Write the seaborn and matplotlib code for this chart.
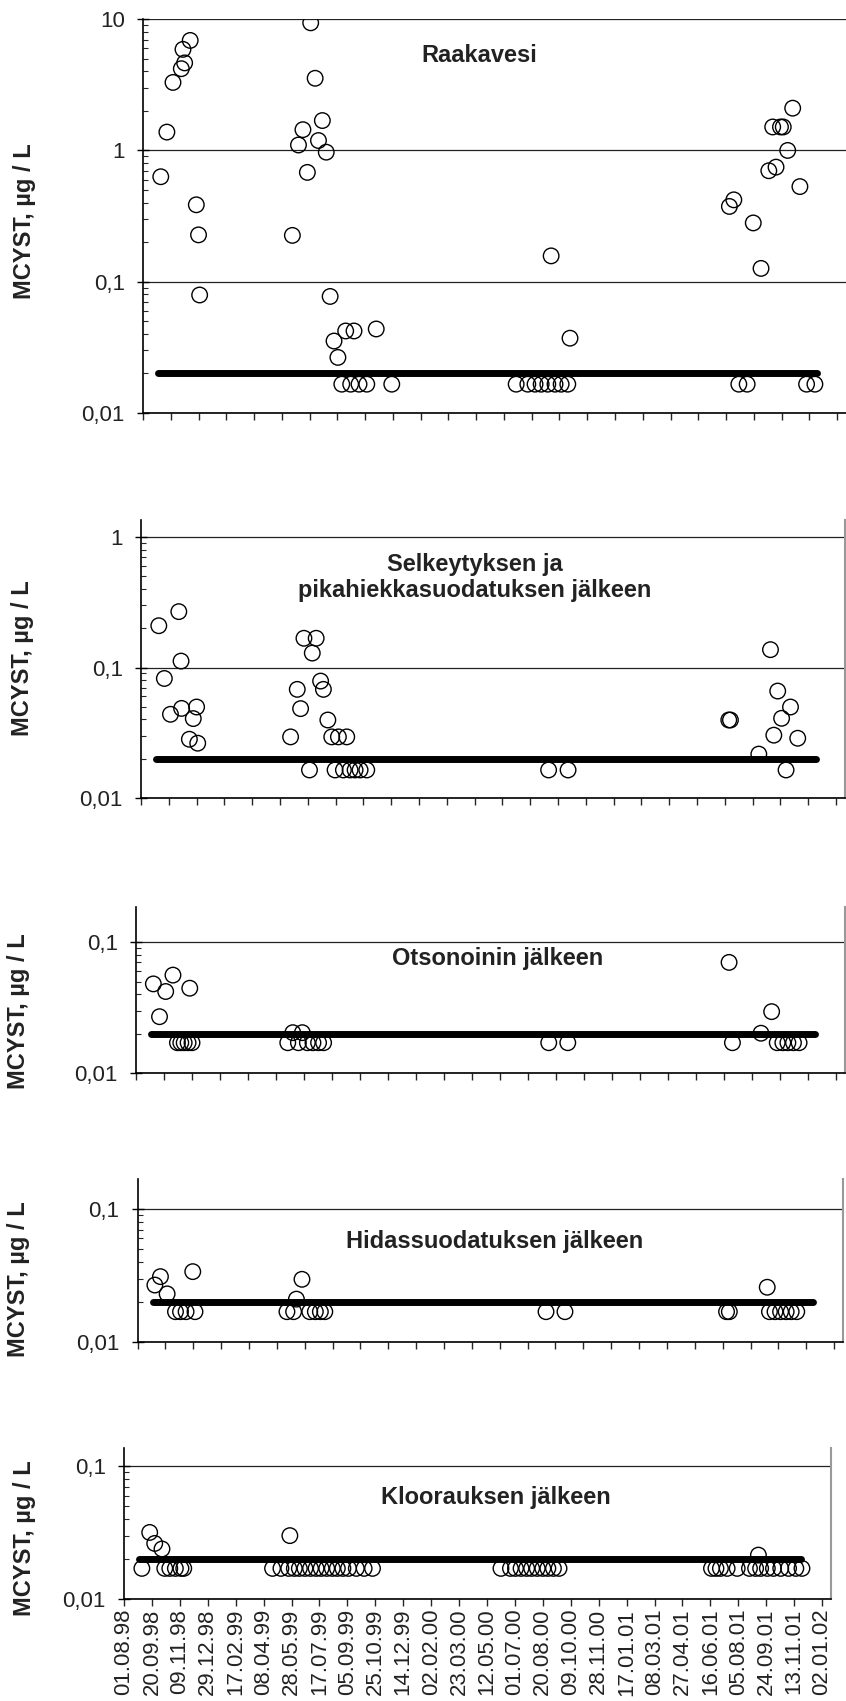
import matplotlib
matplotlib.use("Agg")
import matplotlib.pyplot as plt
import matplotlib.dates as mdates
from matplotlib.ticker import FixedLocator, LogLocator, FuncFormatter, NullFormatter
import pandas as pd
import seaborn as sns

sns.set_style("ticks")
plt.rcParams["font.family"] = ["Liberation Sans", "DejaVu Sans"]

# --- Microcystin (MCYST) concentrations along the treatment train -------------
# Values below the detection limit are plotted just under the 0.02 line.

raw_dates = [
    "1998-09-02", "1998-09-13", "1998-09-24", "1998-10-09", "1998-10-12", "1998-10-15",
    "1998-10-25", "1998-11-05", "1998-11-09", "1998-11-11",
    "1999-04-27", "1999-05-08", "1999-05-16", "1999-05-24", "1999-05-30", "1999-06-07",
    "1999-06-13", "1999-06-20", "1999-06-27", "1999-07-04", "1999-07-11", "1999-07-18",
    "1999-07-25", "1999-08-01", "1999-08-10", "1999-08-16", "1999-08-25", "1999-09-08",
    "1999-09-25", "1999-10-23",
    "2000-06-03", "2000-06-24", "2000-07-07", "2000-07-18", "2000-07-30", "2000-08-05",
    "2000-08-12", "2000-08-23", "2000-09-04", "2000-09-08",
    "2001-06-22", "2001-06-30", "2001-07-09", "2001-07-24", "2001-08-04", "2001-08-18",
    "2001-09-01", "2001-09-08", "2001-09-14", "2001-09-22", "2001-09-27", "2001-10-05",
    "2001-10-14", "2001-10-27", "2001-11-08", "2001-11-23",
]
raw_mcyst = [
    0.63, 1.38, 3.3, 4.2, 5.9, 4.65,
    6.9, 0.385, 0.227, 0.079,
    0.225, 1.1, 1.44, 0.68, 9.4, 3.55,
    1.19, 1.69, 0.97, 0.077, 0.0352, 0.0264,
    0.0165, 0.042, 0.0165, 0.042, 0.0165, 0.0165,
    0.0435, 0.0165,
    0.0165, 0.0165, 0.0165, 0.0165, 0.0165, 0.157,
    0.0165, 0.0165, 0.0165, 0.037,
    0.374, 0.42, 0.0165, 0.0165, 0.28, 0.126,
    0.70, 1.51, 0.746, 1.51, 1.51, 1.0,
    2.1, 0.53, 0.0165, 0.0165,
]

clar_dates = [
    "1998-09-02", "1998-09-12", "1998-09-23", "1998-10-08", "1998-10-12", "1998-10-13",
    "1998-10-27", "1998-11-03", "1998-11-09", "1998-11-11",
    "1999-04-27", "1999-05-09", "1999-05-15", "1999-05-21", "1999-05-31", "1999-06-05",
    "1999-06-12", "1999-06-20", "1999-06-25", "1999-07-03", "1999-07-10", "1999-07-16",
    "1999-07-22", "1999-07-31", "1999-08-06", "1999-08-12", "1999-08-21", "1999-08-30",
    "1999-09-11",
    "2000-08-03", "2000-09-07",
    "2001-06-23", "2001-06-26", "2001-08-16", "2001-09-06", "2001-09-12", "2001-09-19",
    "2001-09-26", "2001-10-04", "2001-10-12", "2001-10-25",
]
clar_mcyst = [
    0.209, 0.0824, 0.0438, 0.268, 0.112, 0.0486,
    0.0282, 0.0406, 0.0498, 0.0263,
    0.0294, 0.068, 0.0484, 0.1675, 0.0164, 0.129,
    0.1675, 0.0787, 0.068, 0.0396, 0.0294, 0.0164,
    0.0294, 0.0164, 0.0294, 0.0164, 0.0164, 0.0164,
    0.0164,
    0.0164, 0.0164,
    0.0396, 0.0396, 0.0217, 0.137, 0.0303, 0.066,
    0.0408, 0.0164, 0.0498, 0.0287,
]

ozone_dates = [
    "1998-09-01", "1998-09-12", "1998-09-23", "1998-10-06", "1998-10-14", "1998-10-20",
    "1998-10-26", "1998-11-02", "1998-11-05", "1998-11-09",
    "1999-04-29", "1999-05-08", "1999-05-18", "1999-05-25", "1999-06-03", "1999-06-13",
    "1999-06-23", "1999-07-02",
    "2000-08-07", "2000-09-10",
    "2001-06-25", "2001-07-01", "2001-08-21", "2001-09-09", "2001-09-19", "2001-09-29",
    "2001-10-08", "2001-10-18", "2001-10-28",
]
ozone_mcyst = [
    0.048, 0.027, 0.042, 0.056, 0.0171, 0.0171,
    0.0171, 0.0171, 0.0445, 0.0171,
    0.0171, 0.0204, 0.0171, 0.0204, 0.0171, 0.0171,
    0.0171, 0.0171,
    0.0171, 0.0171,
    0.07, 0.0171, 0.0202, 0.0295, 0.0171, 0.0171,
    0.0171, 0.0171, 0.0171,
]

slow_dates = [
    "1998-09-01", "1998-09-11", "1998-09-23", "1998-10-08", "1998-10-17", "1998-10-27",
    "1998-11-08", "1998-11-12",
    "1999-04-26", "1999-05-08", "1999-05-13", "1999-05-23", "1999-06-06", "1999-06-16",
    "1999-06-25", "1999-07-03",
    "2000-08-03", "2000-09-06",
    "2001-06-23", "2001-06-28", "2001-09-04", "2001-09-08", "2001-09-18", "2001-09-28",
    "2001-10-08", "2001-10-17", "2001-10-27",
]
slow_mcyst = [
    0.0268, 0.031, 0.023, 0.0169, 0.0169, 0.0169,
    0.0338, 0.0169,
    0.0169, 0.0169, 0.021, 0.0296, 0.0169, 0.0169,
    0.0169, 0.0169,
    0.0169, 0.0169,
    0.0169, 0.0169, 0.0258, 0.0169, 0.0169, 0.0169,
    0.0169, 0.0169, 0.0169,
]

chlor_dates = [
    "1998-09-02", "1998-09-16", "1998-09-25", "1998-10-08", "1998-10-13", "1998-10-22",
    "1998-11-01", "1998-11-11", "1998-11-16",
    "1999-04-24", "1999-05-09", "1999-05-23", "1999-05-25", "1999-06-02", "1999-06-11",
    "1999-06-21", "1999-07-01", "1999-07-11", "1999-07-20", "1999-07-30", "1999-08-09",
    "1999-08-18", "1999-08-28", "1999-09-07", "1999-09-21", "1999-10-05", "1999-10-20",
    "2000-06-06", "2000-06-23", "2000-07-02", "2000-07-12", "2000-07-22", "2000-07-31",
    "2000-08-10", "2000-08-20", "2000-08-29", "2000-09-08", "2000-09-18",
    "2001-06-18", "2001-06-26", "2001-07-04", "2001-07-16", "2001-08-03", "2001-08-25",
    "2001-09-05", "2001-09-10", "2001-09-14", "2001-09-26", "2001-10-07", "2001-10-20",
    "2001-11-03", "2001-11-16", "2001-11-27",
]
chlor_mcyst = [
    0.017, 0.0317, 0.0262, 0.0238, 0.017, 0.017,
    0.017, 0.017, 0.017,
    0.017, 0.017, 0.017, 0.030, 0.017, 0.017,
    0.017, 0.017, 0.017, 0.017, 0.017, 0.017,
    0.017, 0.017, 0.017, 0.017, 0.017, 0.017,
    0.017, 0.017, 0.017, 0.017, 0.017, 0.017,
    0.017, 0.017, 0.017, 0.017, 0.017,
    0.017, 0.017, 0.017, 0.017, 0.017, 0.017,
    0.017, 0.0214, 0.017, 0.017, 0.017, 0.017,
    0.017, 0.017, 0.017,
]

panel_titles = [
    "Raakavesi",
    "Selkeytyksen ja\npikahiekkasuodatuksen jälkeen",
    "Otsonoinin jälkeen",
    "Hidassuodatuksen jälkeen",
    "Kloorauksen jälkeen",
]
panel_ymax = [10, 1.35, 0.185, 0.168, 0.137]

detection_limit = 0.02
limit_span = ["1998-08-28", "2001-11-26"]
axis_span = ["1998-08-01", "2002-01-18"]
tick_first, tick_last, tick_step = "1998-08-01", "2002-01-02", "50D"
ylabel = "MCYST, µg / L"

# --- layout (figure fractions) -------------------------------------------------
W, H = 846.0, 1701.0
panel_boxes = [  # left, top, right, bottom in pixels
    (143, 19.3, 846, 412.7),
    (141, 520, 845, 798),
    (136, 907, 845, 1073.3),
    (137.6, 1179, 843, 1342),
    (124, 1448, 831, 1599),
]
title_pos = [(0.478, 0.909), (0.474, 0.793), (0.51, 0.693), (0.506, 0.615), (0.526, 0.669)]
ylabel_pos = [(25, 221), (22, 658), (18, 1011), (19, 1279), (25, 1538)]

series = [
    (raw_dates, raw_mcyst),
    (clar_dates, clar_mcyst),
    (ozone_dates, ozone_mcyst),
    (slow_dates, slow_mcyst),
    (chlor_dates, chlor_mcyst),
]

fig = plt.figure(figsize=(W / 100, H / 100), dpi=100)
tick_dates = pd.date_range(tick_first, tick_last, freq=tick_step)
decimal_comma = FuncFormatter(lambda v, _: f"{v:g}".replace(".", ","))

for i, ((dates, vals), box) in enumerate(zip(series, panel_boxes)):
    l, t, r, b = box
    ax = fig.add_axes([l / W, 1 - b / H, (r - l) / W, (b - t) / H])
    df = pd.DataFrame({"date": pd.to_datetime(dates), "mcyst": vals})
    lim = pd.DataFrame({"date": pd.to_datetime(limit_span),
                        "mcyst": [detection_limit, detection_limit]})

    sns.lineplot(data=lim, x="date", y="mcyst", ax=ax, color="black", lw=5,
                 solid_capstyle="round", zorder=2)
    sns.scatterplot(data=df, x="date", y="mcyst", ax=ax, marker="o", s=125,
                    facecolors="none", edgecolor="black", linewidth=1.0, zorder=3)

    ax.set_yscale("log")
    ax.set_ylim(0.01, panel_ymax[i])
    ax.set_xlim(pd.Timestamp(axis_span[0]), pd.Timestamp(axis_span[1]))
    ax.set_xlabel("")
    ax.set_ylabel("")

    ax.yaxis.set_major_locator(FixedLocator([0.01, 0.1, 1, 10]))
    ax.yaxis.set_major_formatter(decimal_comma)
    ax.yaxis.set_minor_locator(LogLocator(base=10, subs=range(2, 10)))
    ax.yaxis.set_minor_formatter(NullFormatter())
    ax.grid(axis="y", which="major", color="#222222", lw=0.9)

    ax.set_xticks(tick_dates)
    ax.xaxis.set_major_formatter(mdates.DateFormatter("%d.%m.%y"))
    ax.xaxis.set_minor_locator(FixedLocator([]))

    ax.tick_params(axis="y", which="major", direction="inout", length=8, width=1.0,
                   labelsize=16, pad=9, colors="black", labelcolor="#222222")
    ax.tick_params(axis="y", which="minor", direction="in", length=3.5, width=0.8)
    ax.tick_params(axis="x", which="major", direction="out", length=5, width=1.0,
                   labelsize=16, pad=2, labelrotation=90, labelcolor="#222222",
                   labelbottom=(i == len(series) - 1))

    for side in ("left", "bottom"):
        ax.spines[side].set_color("black")
        ax.spines[side].set_linewidth(1.2)
    ax.spines["top"].set_visible(False)
    if i == 0:
        ax.spines["right"].set_visible(False)
    else:
        ax.spines["right"].set_color("#999999")
        ax.spines["right"].set_linewidth(1.5)

    tx, ty = title_pos[i]
    ax.text(tx, ty, panel_titles[i], transform=ax.transAxes, ha="center", va="center",
            fontsize=17, fontweight="bold", color="#222222", linespacing=1.2)

    lx, ly = ylabel_pos[i]
    fig.text(lx / W, 1 - ly / H, ylabel, rotation=90, ha="center", va="center",
             fontsize=17, fontweight="bold", color="#222222")

fig.savefig("out.png", dpi=100)
